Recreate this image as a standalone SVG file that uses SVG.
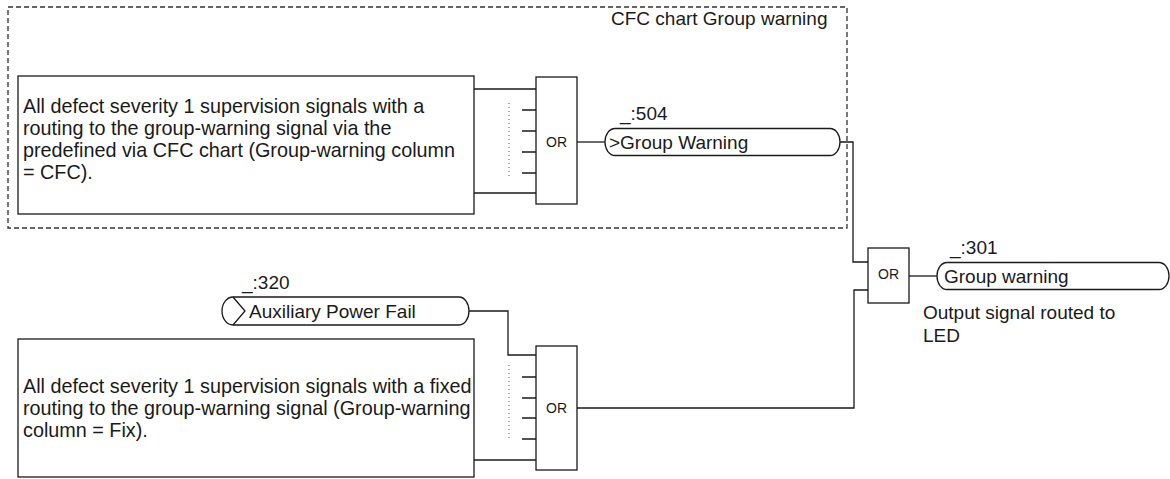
<svg xmlns="http://www.w3.org/2000/svg" width="1170" height="479" viewBox="0 0 1170 479">
<style>
  .ln{fill:none;stroke:#1a1a1a;stroke-width:1.3}
  .bx{fill:#fff;stroke:#1a1a1a;stroke-width:1.3}
  .dash{fill:none;stroke:#333;stroke-width:1.3;stroke-dasharray:5 3}
  .dot{fill:none;stroke:#555;stroke-width:1;stroke-dasharray:1 3}
  .t{font-family:"Liberation Sans",Arial,sans-serif;font-size:19px;fill:#1a1a1a}
  .bt{font-family:"Liberation Sans",Arial,sans-serif;font-size:19.8px;fill:#1a1a1a}
  .or{font-family:"Liberation Sans",Arial,sans-serif;font-size:14px;fill:#1a1a1a;text-anchor:middle;dominant-baseline:central}
</style>
<rect width="1170" height="479" fill="#fff"/>
<g id="cfc-group">
  <rect class="dash" x="8" y="7" width="839" height="221"/>
  <text class="t" x="611" y="25">CFC chart Group warning</text>
</g>
<g id="connectors">
  <path class="ln" d="M474,89 H536 M474,193 H536"/>
  <path class="ln" d="M522,110 H536 M522,131 H536 M522,152 H536 M522,173 H536"/>
  <path class="dot" d="M509,103 V178"/>
  <path class="ln" d="M577,142 H605"/>
  <path class="ln" d="M840,142 H853 V262 H868"/>
  <path class="ln" d="M469,311 H508 V355 H536"/>
  <path class="ln" d="M474,460 H536"/>
  <path class="ln" d="M522,377 H536 M522,398 H536 M522,418 H536 M522,439 H536"/>
  <path class="dot" d="M509,365 V440"/>
  <path class="ln" d="M577,408 H854 V290 H868"/>
  <path class="ln" d="M909,276 H937"/>
</g>
<g id="box-cfc">
  <rect class="bx" x="18" y="76" width="456" height="138"/>
  <text class="bt" x="23" y="113">All defect severity 1 supervision signals with a</text>
  <text class="bt" x="23" y="135">routing to the group-warning signal via the</text>
  <text class="bt" x="23" y="157">predefined via CFC chart (Group-warning column</text>
  <text class="bt" x="23" y="179">= CFC).</text>
</g>
<g id="or1">
  <rect class="bx" x="536" y="77" width="41" height="127"/>
  <text class="or" x="556.5" y="142">OR</text>
</g>
<g id="sig-504">
  <path class="bx" d="M615,128.5 H830 A10,13.5 0 0 1 830,155.5 H615 A10,13.5 0 0 1 615,128.5 Z"/>
  <text class="t" x="609" y="148.5">&gt;Group Warning</text>
  <text class="t" x="620" y="120">_:504</text>
</g>
<g id="or3">
  <rect class="bx" x="868" y="248" width="41" height="55"/>
  <text class="or" x="888.5" y="274">OR</text>
</g>
<g id="sig-301">
  <path class="bx" d="M947,262.5 H1159 A10,13.5 0 0 1 1159,289.5 H947 A10,13.5 0 0 1 947,262.5 Z"/>
  <text class="t" x="944" y="283">Group warning</text>
  <text class="t" x="950" y="254">_:301</text>
  <text class="t" x="923" y="319">Output signal routed to</text>
  <text class="t" x="923" y="342">LED</text>
</g>
<g id="sig-320">
  <path class="bx" d="M233,297 H459 A10,14 0 0 1 459,325 H233 A11,14 0 0 1 233,297 Z"/>
  <path class="ln" d="M233,297 L245,311 L233,325"/>
  <text class="t" x="249" y="318">Auxiliary Power Fail</text>
  <text class="t" x="242" y="289">_:320</text>
</g>
<g id="box-fix">
  <rect class="bx" x="18" y="339" width="456" height="138"/>
  <text class="bt" x="23" y="393">All defect severity 1 supervision signals with a fixed</text>
  <text class="bt" x="23" y="415">routing to the group-warning signal (Group-warning</text>
  <text class="bt" x="23" y="437">column = Fix).</text>
</g>
<g id="or2">
  <rect class="bx" x="536" y="346" width="41" height="124"/>
  <text class="or" x="556.5" y="408">OR</text>
</g>
</svg>
